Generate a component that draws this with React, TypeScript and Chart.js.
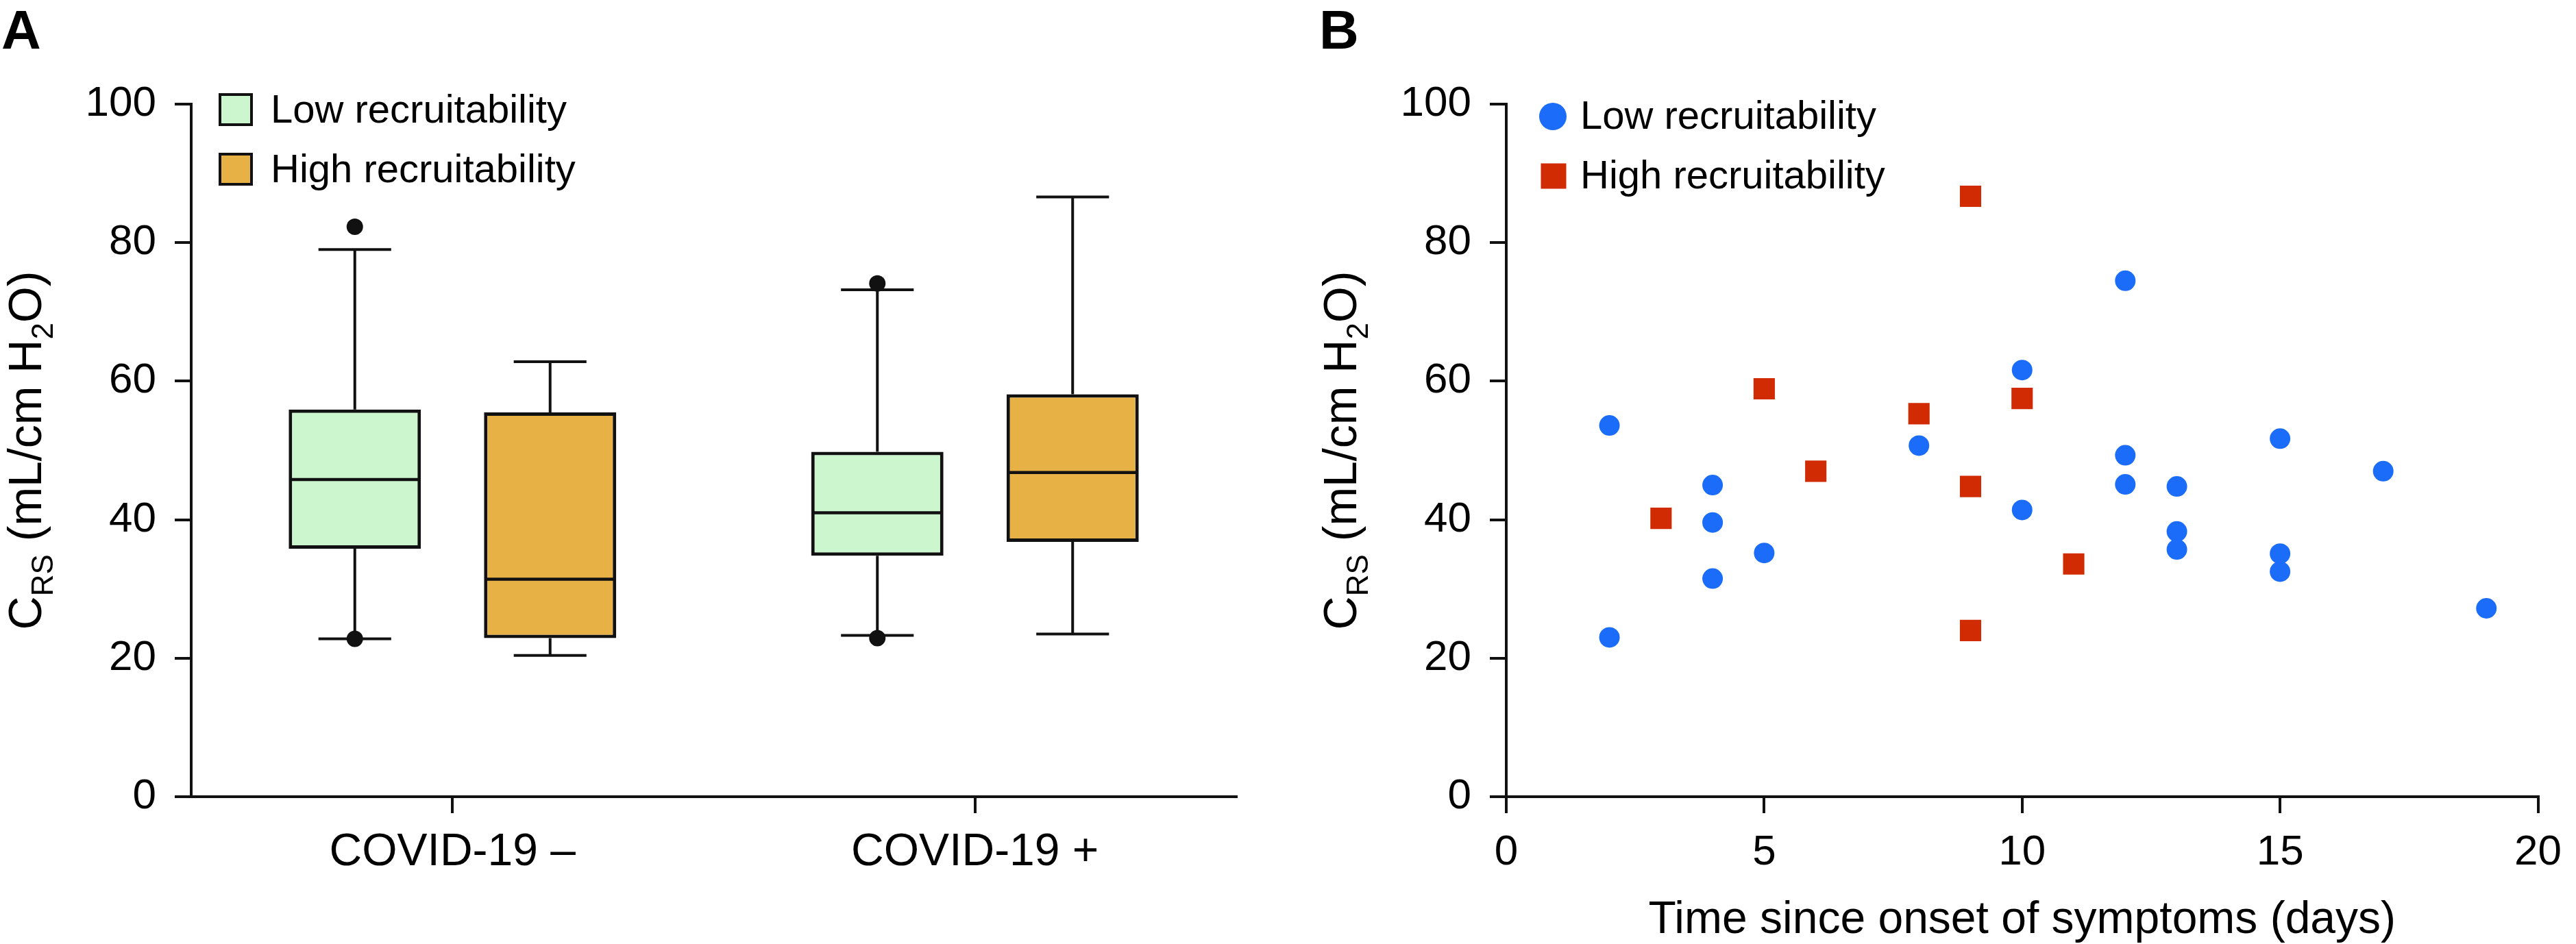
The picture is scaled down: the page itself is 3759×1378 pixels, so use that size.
import React, { useEffect, useRef } from 'react';
import { Chart, registerables } from 'chart.js';

Chart.register(...registerables);

// ---------- Data: panel A (box plots) ----------
const categories = ['COVID-19 \u2013', 'COVID-19 +'];
const lowWhiskerMin = [22.8, 23.3];
const lowQ1 = [35.8, 34.8];
const lowMedian = [45.8, 41.0];
const lowQ3 = [55.9, 49.8];
const lowWhiskerMax = [79.0, 73.2];
const lowOutliers = [[82.3, 22.8], [74.1, 22.9]];
const highWhiskerMin = [20.4, 23.5];
const highQ1 = [22.9, 36.8];
const highMedian = [31.4, 46.8];
const highQ3 = [55.5, 58.1];
const highWhiskerMax = [62.8, 86.6];
const highOutliers: number[][] = [[], []];

// ---------- Data: panel B (scatter) ----------
const lowDays = [2, 2, 4, 4, 4, 5, 8, 10, 10, 12, 12, 12, 13, 13, 13, 15, 15, 15, 17, 19];
const lowCrs = [53.6, 23.0, 45.0, 39.6, 31.5, 35.2, 50.7, 61.6, 41.4, 74.5, 49.3, 45.1, 44.8, 38.3, 35.7, 51.7, 35.1, 32.5, 47.0, 27.2];
const highDays = [3, 5, 6, 8, 9, 9, 9, 10, 11];
const highCrs = [40.2, 58.9, 47.0, 55.3, 86.7, 44.8, 24.0, 57.5, 33.6];

// ---------- Axis ticks / labels ----------
const yMin = 0;
const yMax = 100;
const yStep = 20;
const xMin = 0;
const xMax = 20;
const xStep = 5;
const seriesNames = ['Low recruitability', 'High recruitability'];
const xTitleB = 'Time since onset of symptoms (days)';

// ---------- Styles ----------
const FONT = "'Liberation Sans', Arial, Helvetica, sans-serif";
const INK = '#111111';
const GREEN = '#CBF6CE';
const ORANGE = '#E8B146';
const BLUE = '#1B6CF9';
const RED = '#D12B03';

Chart.defaults.font.family = FONT;
Chart.defaults.color = '#000';

const boxSeries = [
  { min: lowWhiskerMin, q1: lowQ1, med: lowMedian, q3: lowQ3, max: lowWhiskerMax, out: lowOutliers },
  { min: highWhiskerMin, q1: highQ1, med: highMedian, q3: highQ3, max: highWhiskerMax, out: highOutliers },
];

function drawYTitle(ctx: CanvasRenderingContext2D, baselineX: number, centerY: number) {
  const main = 68;
  const sub = 44;
  const shift = 17;
  const parts: any[] = [
    { t: 'C', s: main, dy: 0 },
    { t: 'RS', s: sub, dy: shift },
    { t: ' (mL/cm H', s: main, dy: 0 },
    { t: '2', s: sub, dy: shift },
    { t: 'O)', s: main, dy: 0 },
  ];
  ctx.save();
  let total = 0;
  parts.forEach((p) => {
    ctx.font = `${p.s}px ${FONT}`;
    p.w = ctx.measureText(p.t).width;
    total += p.w;
  });
  ctx.translate(baselineX, centerY);
  ctx.rotate(-Math.PI / 2);
  ctx.fillStyle = '#000';
  ctx.textAlign = 'left';
  ctx.textBaseline = 'alphabetic';
  let x = -total / 2;
  parts.forEach((p) => {
    ctx.font = `${p.s}px ${FONT}`;
    ctx.fillText(p.t, x, p.dy);
    x += p.w;
  });
  ctx.restore();
}

function drawPanelLetter(ctx: CanvasRenderingContext2D, letter: string, x: number, baseline: number) {
  ctx.save();
  ctx.font = `bold 80px ${FONT}`;
  ctx.fillStyle = '#000';
  ctx.textAlign = 'left';
  ctx.textBaseline = 'alphabetic';
  ctx.fillText(letter, x, baseline);
  ctx.restore();
}

function legendText(ctx: CanvasRenderingContext2D, text: string, x: number, baseline: number) {
  ctx.save();
  ctx.font = `58px ${FONT}`;
  ctx.fillStyle = '#000';
  ctx.textAlign = 'left';
  ctx.textBaseline = 'alphabetic';
  ctx.fillText(text, x, baseline);
  ctx.restore();
}

const boxPlugin = {
  id: 'boxWhiskers',
  beforeDatasetsDraw(chart: any) {
    const { ctx } = chart;
    const y = chart.scales.y;
    boxSeries.forEach((s, di) => {
      const meta = chart.getDatasetMeta(di);
      meta.data.forEach((bar: any, i: number) => {
        const x = bar.x;
        const cw = bar.width * 0.275;
        const pMax = y.getPixelForValue(s.max[i]);
        const pMin = y.getPixelForValue(s.min[i]);
        ctx.save();
        ctx.strokeStyle = INK;
        ctx.lineWidth = 4;
        ctx.beginPath();
        ctx.moveTo(x, pMax);
        ctx.lineTo(x, y.getPixelForValue(s.q3[i]));
        ctx.moveTo(x, y.getPixelForValue(s.q1[i]));
        ctx.lineTo(x, pMin);
        ctx.moveTo(x - cw, pMax);
        ctx.lineTo(x + cw, pMax);
        ctx.moveTo(x - cw, pMin);
        ctx.lineTo(x + cw, pMin);
        ctx.stroke();
        ctx.restore();
      });
    });
  },
  afterDatasetsDraw(chart: any) {
    const { ctx } = chart;
    const y = chart.scales.y;
    boxSeries.forEach((s, di) => {
      const meta = chart.getDatasetMeta(di);
      meta.data.forEach((bar: any, i: number) => {
        const x = bar.x;
        const hw = bar.width / 2;
        const pm = y.getPixelForValue(s.med[i]);
        ctx.save();
        ctx.strokeStyle = INK;
        ctx.lineWidth = 4.5;
        ctx.beginPath();
        ctx.moveTo(x - hw + 2, pm);
        ctx.lineTo(x + hw - 2, pm);
        ctx.stroke();
        ctx.fillStyle = INK;
        s.out[i].forEach((v) => {
          ctx.beginPath();
          ctx.arc(x, y.getPixelForValue(v), 12, 0, Math.PI * 2);
          ctx.fill();
        });
        ctx.restore();
      });
    });
  },
  afterDraw(chart: any) {
    const { ctx, chartArea } = chart;
    drawPanelLetter(ctx, 'A', 2, 71);
    drawYTitle(ctx, 60, (chartArea.top + chartArea.bottom) / 2);
    const colors = [GREEN, ORANGE];
    const centers = [160, 247];
    const baselines = [179, 266];
    colors.forEach((c, k) => {
      ctx.save();
      ctx.fillStyle = c;
      ctx.strokeStyle = INK;
      ctx.lineWidth = 4;
      ctx.fillRect(321, centers[k] - 22, 46, 44);
      ctx.strokeRect(321, centers[k] - 22, 46, 44);
      ctx.restore();
      legendText(ctx, seriesNames[k], 395, baselines[k]);
    });
  },
};

const scatterPlugin = {
  id: 'scatterDecor',
  afterDraw(chart: any) {
    const { ctx, chartArea } = chart;
    drawPanelLetter(ctx, 'B', 45, 71);
    drawYTitle(ctx, 99, (chartArea.top + chartArea.bottom) / 2);
    ctx.save();
    ctx.fillStyle = BLUE;
    ctx.beginPath();
    ctx.arc(386, 170, 20, 0, Math.PI * 2);
    ctx.fill();
    ctx.fillStyle = RED;
    ctx.fillRect(387 - 18.5, 257 - 18.5, 37, 37);
    ctx.restore();
    legendText(ctx, seriesNames[0], 426, 188);
    legendText(ctx, seriesNames[1], 426, 275);
  },
};

function axisCommon(extra: any) {
  return {
    border: { display: true, color: INK, width: 4 },
    grid: { drawOnChartArea: false, drawTicks: true, tickLength: 24, color: INK, lineWidth: 4 },
    ...extra,
  };
}

function PanelA() {
  const ref = useRef<HTMLCanvasElement>(null);
  useEffect(() => {
    const chart = new Chart(ref.current as HTMLCanvasElement, {
      type: 'bar',
      data: {
        labels: categories,
        datasets: [
          {
            label: seriesNames[0],
            data: categories.map((_, i) => [lowQ1[i], lowQ3[i]]) as any,
            backgroundColor: GREEN,
            borderColor: INK,
            borderWidth: 5,
            borderSkipped: false,
            categoryPercentage: 0.7475,
            barPercentage: 0.677,
          },
          {
            label: seriesNames[1],
            data: categories.map((_, i) => [highQ1[i], highQ3[i]]) as any,
            backgroundColor: ORANGE,
            borderColor: INK,
            borderWidth: 5,
            borderSkipped: false,
            categoryPercentage: 0.7475,
            barPercentage: 0.677,
          },
        ],
      },
      options: {
        responsive: false,
        animation: false,
        events: [],
        layout: { padding: { top: 152, left: 0, right: 76, bottom: 0 } },
        plugins: { legend: { display: false }, tooltip: { enabled: false } },
        scales: {
          x: axisCommon({
            type: 'category',
            offset: true,
            grid: { drawOnChartArea: false, drawTicks: true, tickLength: 24, color: INK, lineWidth: 4, offset: false },
            ticks: { font: { size: 66 }, color: '#000', padding: 18, maxRotation: 0 },
            afterFit: (s: any) => { s.height = 215; },
          }),
          y: axisCommon({
            min: yMin,
            max: yMax,
            ticks: { stepSize: yStep, font: { size: 62 }, color: '#000', padding: 27 },
            afterFit: (s: any) => { s.width = 279; },
          }),
        },
      } as any,
      plugins: [boxPlugin],
    });
    return () => chart.destroy();
  }, []);
  return <canvas ref={ref} width={1880} height={1378} style={{ display: 'block' }} />;
}

function PanelB() {
  const ref = useRef<HTMLCanvasElement>(null);
  useEffect(() => {
    const chart = new Chart(ref.current as HTMLCanvasElement, {
      type: 'scatter',
      data: {
        datasets: [
          {
            label: seriesNames[0],
            data: lowDays.map((d, i) => ({ x: d, y: lowCrs[i] })),
            backgroundColor: BLUE,
            borderColor: BLUE,
            pointStyle: 'circle',
            pointRadius: 15,
            pointHoverRadius: 15,
            pointBorderWidth: 0,
          },
          {
            label: seriesNames[1],
            data: highDays.map((d, i) => ({ x: d, y: highCrs[i] })),
            backgroundColor: RED,
            borderColor: RED,
            pointStyle: 'rect',
            pointRadius: 22,
            pointHoverRadius: 22,
            pointBorderWidth: 0,
          },
        ],
      },
      options: {
        responsive: false,
        animation: false,
        events: [],
        layout: { padding: { top: 152, left: 0, right: 37, bottom: 0 } },
        plugins: { legend: { display: false }, tooltip: { enabled: false } },
        scales: {
          x: axisCommon({
            type: 'linear',
            min: xMin,
            max: xMax,
            ticks: { stepSize: xStep, font: { size: 62 }, color: '#000', padding: 21, maxRotation: 0 },
            title: {
              display: true,
              text: xTitleB,
              color: '#000',
              font: { size: 66, lineHeight: 1 },
              padding: { top: 0, bottom: 1 },
            },
            afterFit: (s: any) => { s.height = 215; },
          }),
          y: axisCommon({
            min: yMin,
            max: yMax,
            ticks: { stepSize: yStep, font: { size: 62 }, color: '#000', padding: 27 },
            afterFit: (s: any) => { s.width = 318; },
          }),
        },
      } as any,
      plugins: [scatterPlugin],
    });
    return () => chart.destroy();
  }, []);
  return <canvas ref={ref} width={1879} height={1378} style={{ display: 'block' }} />;
}

export default function App() {
  return (
    <div style={{ position: 'fixed', left: 0, top: 0, width: 3759, height: 1378, background: '#fff', overflow: 'hidden' }}>
      <div style={{ position: 'absolute', left: 0, top: 0, width: 1880, height: 1378 }}>
        <PanelA />
      </div>
      <div style={{ position: 'absolute', left: 1880, top: 0, width: 1879, height: 1378 }}>
        <PanelB />
      </div>
    </div>
  );
}
